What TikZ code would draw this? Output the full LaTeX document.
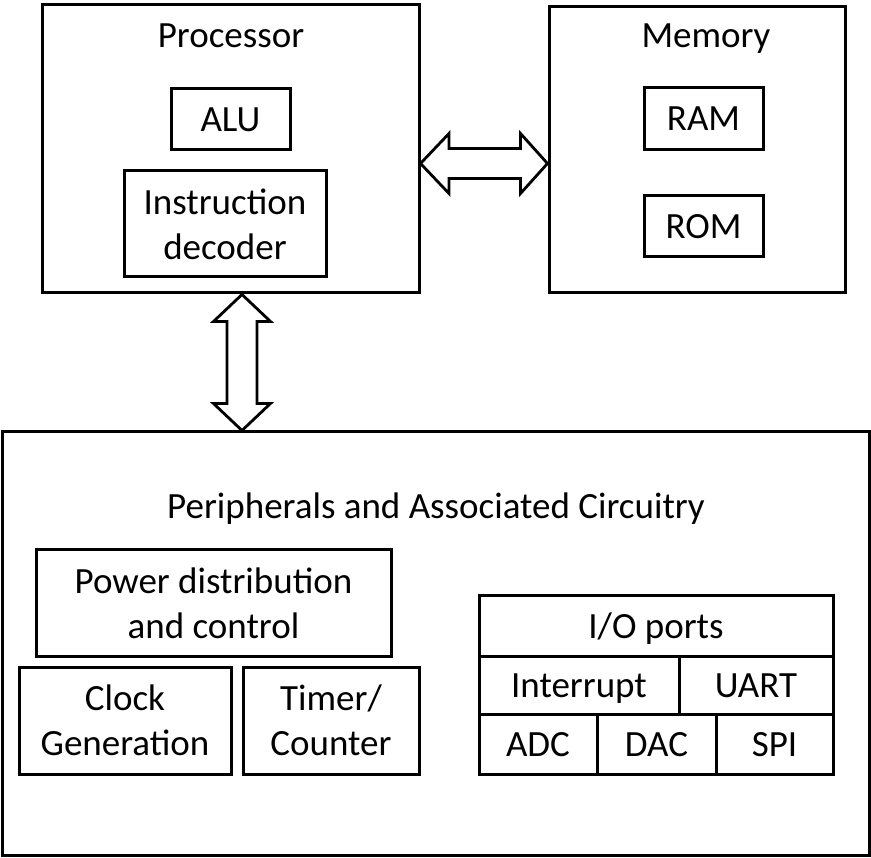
\documentclass[tikz,border=0pt]{standalone}
\usepackage{fontspec}
\setmainfont{Carlito}
\usetikzlibrary{calc}
\newcommand\diagfont{\fontsize{37pt}{45pt}\selectfont}
\tikzset{
  blk/.style={draw, line width=3pt, rectangle, inner sep=0pt, align=center, font=\diagfont},
  one/.style={text height=24pt, text depth=0pt},
  lbl/.style={inner sep=0pt, anchor=base, font=\diagfont},
  fat/.style={draw, line width=2.8pt, line join=miter, fill=white}
}
\begin{document}
\begin{tikzpicture}[x=1pt,y=-1pt]
\useasboundingbox[fill=white] (0,0) rectangle (871,858);
% Processor
\node[blk, minimum width=377pt, minimum height=288pt] (proc) at (230.5,149) {};
\node[lbl] (proct) at (231,48) {Processor};
\node[blk, one, minimum width=119pt, minimum height=61pt] (alu) at (230.5,119.5) {ALU};
\node[blk, minimum width=202pt, minimum height=106pt] (dec) at (225,224) {Instruction\\decoder};
% Memory
\node[blk, minimum width=296pt, minimum height=286pt] (mem) at (697,150) {};
\node[lbl] (memt) at (706,48) {Memory};
\node[blk, one, minimum width=119pt, minimum height=62pt] (ram) at (703.5,119) {RAM};
\node[blk, one, minimum width=119pt, minimum height=61pt] (rom) at (703.5,226.5) {ROM};
% Peripherals
\node[blk, minimum width=867pt, minimum height=423pt] (peri) at (435.5,643.5) {};
\node[lbl] (perit) at (436,519) {Peripherals and Associated Circuitry};
\node[blk, minimum width=355pt, minimum height=106pt] (pwr) at (213.5,603) {Power distribution\\and control};
\node[blk, minimum width=212pt, minimum height=107pt] (clk) at (125,720.5) {Clock\\Generation};
\node[blk, minimum width=176pt, minimum height=107pt] (tmr) at (331,720.5) {Timer/\\Counter};
% I/O table
\node[blk, one, minimum width=354pt, minimum height=60pt] (io) at (656,626) {I/O ports};
\node[blk, one, minimum width=200pt, minimum height=58pt] (intr) at (579,685) {Interrupt};
\node[blk, one, minimum width=154pt, minimum height=58pt] (uart) at (756,685) {UART};
\node[blk, one, minimum width=118pt, minimum height=60pt] (adc) at (538,744) {ADC};
\node[blk, one, minimum width=119pt, minimum height=60pt] (dac) at (656.5,744) {DAC};
\node[blk, one, minimum width=117pt, minimum height=60pt] (spi) at (774.5,744) {SPI};
% Processor <-> Memory
\path (proc.east) ++(0,14.5) coordinate (hL);
\path (mem.west |- hL) coordinate (hR);
\draw[fat] (hL) -- ++(28.5,-30) -- ++(0,15) -- ($(hR)+(-27,-15)$) -- ++(0,-15) -- (hR)
  -- ++(-27,30) -- ++(0,-15) -- ($(hL)+(28.5,15)$) -- ++(0,15) -- cycle;
% Processor <-> Peripherals
\path ($(proc.south)+(11.5,0)$) coordinate (vT);
\path (vT |- peri.north) coordinate (vB);
\draw[fat] (vT) -- ++(28.5,27) -- ++(-13.5,0) -- ($(vB)+(15,-27)$) -- ++(13.5,0) -- (vB)
  -- ++(-28.5,-27) -- ++(13.5,0) -- ($(vT)+(-15,27)$) -- ++(-13.5,0) -- cycle;
\end{tikzpicture}
\end{document}
